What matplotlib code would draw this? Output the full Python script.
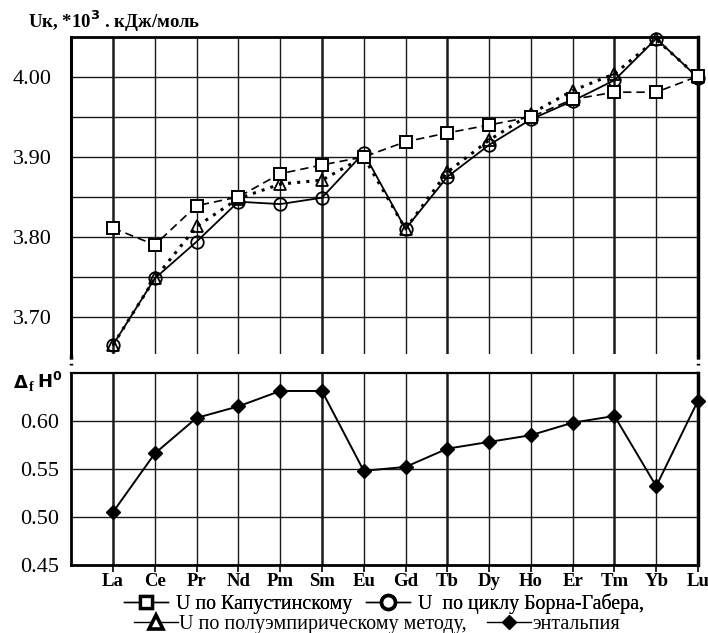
import matplotlib
matplotlib.use("Agg")
import matplotlib.pyplot as plt
from matplotlib.lines import Line2D

plt.rcParams['font.family'] = ['Liberation Serif', 'DejaVu Serif']

elements = ["La", "Ce", "Pr", "Nd", "Pm", "Sm", "Eu", "Gd", "Tb", "Dy", "Ho", "Er", "Tm", "Yb", "Lu"]
u_kapustinsky = [3.811, 3.790, 3.839, 3.850, 3.879, 3.890, 3.900, 3.919, 3.930, 3.940, 3.950, 3.972, 3.981, 3.981, 4.001]
u_born_haber = [3.665, 3.748, 3.794, 3.844, 3.841, 3.849, 3.905, 3.810, 3.875, 3.915, 3.947, 3.970, 3.996, 4.048, 3.999]
u_semi_empirical = [3.665, 3.748, 3.813, 3.848, 3.866, 3.871, 3.900, 3.810, 3.881, 3.921, 3.954, 3.983, 4.004, 4.047, 4.000]
enthalpy = [0.505, 0.566, 0.603, 0.615, 0.631, 0.631, 0.548, 0.552, 0.571, 0.578, 0.585, 0.598, 0.605, 0.532, 0.621]

upper_yticks = [3.70, 3.80, 3.90, 4.00]
upper_grid = [3.70, 3.75, 3.80, 3.85, 3.90, 3.95, 4.00]
lower_yticks = [0.45, 0.50, 0.55, 0.60]

label_kap = "U по Капустинскому"
label_bh = "U  по циклу Борна-Габера,"
label_semi = "U по полуэмпирическому методу,"
label_enth = "энтальпия"

W, H = 708, 633
fig = plt.figure(figsize=(W / 100, H / 100), dpi=100)

x = list(range(len(elements)))
xlim = (-1.0, 14.0)
grid_col = "#1a1a1a"
thick_cols = {"La", "Sm", "Tb", "Tm"}

# ---------- upper panel ----------
ax1 = fig.add_axes([0.1006, 0.4414, 0.9859 - 0.1006, 0.9415 - 0.4414])
ax1.set_xlim(*xlim)
ax1.set_ylim(3.654, 4.05)
for i, el in enumerate(elements):
    ax1.axvline(i, color=grid_col, lw=1.8 if el in thick_cols else 1.0, zorder=1)
for v in upper_grid:
    ax1.axhline(v, color=grid_col, lw=1.0, zorder=1)
ax1.plot(x, u_kapustinsky, color="black", lw=1.2, ls=(0, (5, 3)), marker="s", ms=8,
         mfc="white", mec="black", mew=1.4, zorder=4, clip_on=False)
ax1.plot(x, u_born_haber, color="black", lw=1.3, ls="-", marker="o", ms=9,
         mfc="none", mec="black", mew=1.3, zorder=3, clip_on=False)
ax1.plot(x, u_semi_empirical, color="black", lw=2.2, ls=(0, (1, 2)), marker="^", ms=9,
         mfc="none", mec="black", mew=1.3, zorder=3, clip_on=False)
ax1.set_yticks(upper_yticks)
ax1.set_yticklabels([f"{v:.2f}" for v in upper_yticks], fontsize=16)
ax1.tick_params(axis="y", length=0, pad=14)
ax1.set_xticks([])
ax1.spines["bottom"].set_visible(False)
ax1.spines["left"].set_linewidth(2.2)
ax1.spines["right"].set_linewidth(2.5)
ax1.spines["top"].set_linewidth(2.0)
# break marks
for xa in (0.0, 1.0):
    ax1.plot([xa, xa], [-0.005, -0.035], transform=ax1.transAxes, color="black",
             lw=2.5, ls=(0, (1.2, 1.2)), clip_on=False)
fig.text(28 / W, 1 - 21 / H, "Uк, *10$^{\\mathbf{3}}$ . кДж/моль", fontsize=13.5,
         fontweight="bold", ha="left", va="center")

# ---------- lower panel ----------
ax2 = fig.add_axes([0.1006, 0.1074, 0.9859 - 0.1006, 0.4112 - 0.1074])
ax2.set_xlim(*xlim)
ax2.set_ylim(0.45, 0.65)
for i, el in enumerate(elements):
    ax2.axvline(i, color=grid_col, lw=1.8 if el in thick_cols else 1.0, zorder=1)
for v in [0.50, 0.55, 0.60]:
    ax2.axhline(v, color=grid_col, lw=1.0, zorder=1)
ax2.plot(x, enthalpy, color="black", lw=1.4, marker="D", ms=7.5,
         mfc="black", mec="black", zorder=3, clip_on=False)
ax2.set_yticks(lower_yticks)
ax2.set_yticklabels([f"{v:.2f}" for v in lower_yticks], fontsize=16)
ax2.tick_params(axis="y", length=0, pad=9)
ax2.set_xticks(x)
ax2.set_xticklabels(elements, fontsize=13.5, fontweight="bold")
ax2.tick_params(axis="x", direction="out", length=5, width=1.2, pad=1)
ax2.spines["left"].set_linewidth(2.0)
ax2.spines["right"].set_linewidth(2.5)
ax2.spines["top"].set_linewidth(1.6)
ax2.spines["bottom"].set_linewidth(2.0)
fig.text(14 / W, 1 - 383 / H, "Δ", fontsize=13, fontweight="bold",
         ha="left", va="center", family=["DejaVu Sans"])
fig.text(29 / W, 1 - 381 / H, "f", fontsize=10, fontweight="bold", ha="left", va="top")
fig.text(37 / W, 1 - 382 / H, "H$^{\\mathbf{0}}$", fontsize=13, fontweight="bold",
         ha="left", va="center", family=["DejaVu Sans"])

# ---------- legend (two independent rows) ----------
h_kap = Line2D([], [], color="black", lw=1.0, marker="s", ms=9, mfc="white", mec="black", mew=2.4)
h_semi = Line2D([], [], color="black", lw=1.0, marker="^", ms=10, mfc="white", mec="black", mew=2.6)
h_bh = Line2D([], [], color="black", lw=1.0, marker="o", ms=10, mfc="white", mec="black", mew=2.6)
h_enth = Line2D([], [], color="black", lw=1.0, marker="D", ms=7, mfc="black", mec="black")

leg1 = fig.legend([h_kap, h_bh], [label_kap, label_bh], ncol=2, loc="center",
                  bbox_to_anchor=(384 / W, 1 - 604 / H), frameon=False, fontsize=14.3,
                  handlelength=2.2, handletextpad=0.4, columnspacing=0.7,
                  borderpad=0, borderaxespad=0)
fig.legend([h_semi, h_enth], [label_semi, label_enth], ncol=2, loc="center",
           bbox_to_anchor=(377 / W, 1 - 624 / H), frameon=False, fontsize=14.5,
           handlelength=2.2, handletextpad=0.05, columnspacing=1.0,
           borderpad=0, borderaxespad=0)
fig.add_artist(leg1)

fig.savefig("out.png", dpi=100)
